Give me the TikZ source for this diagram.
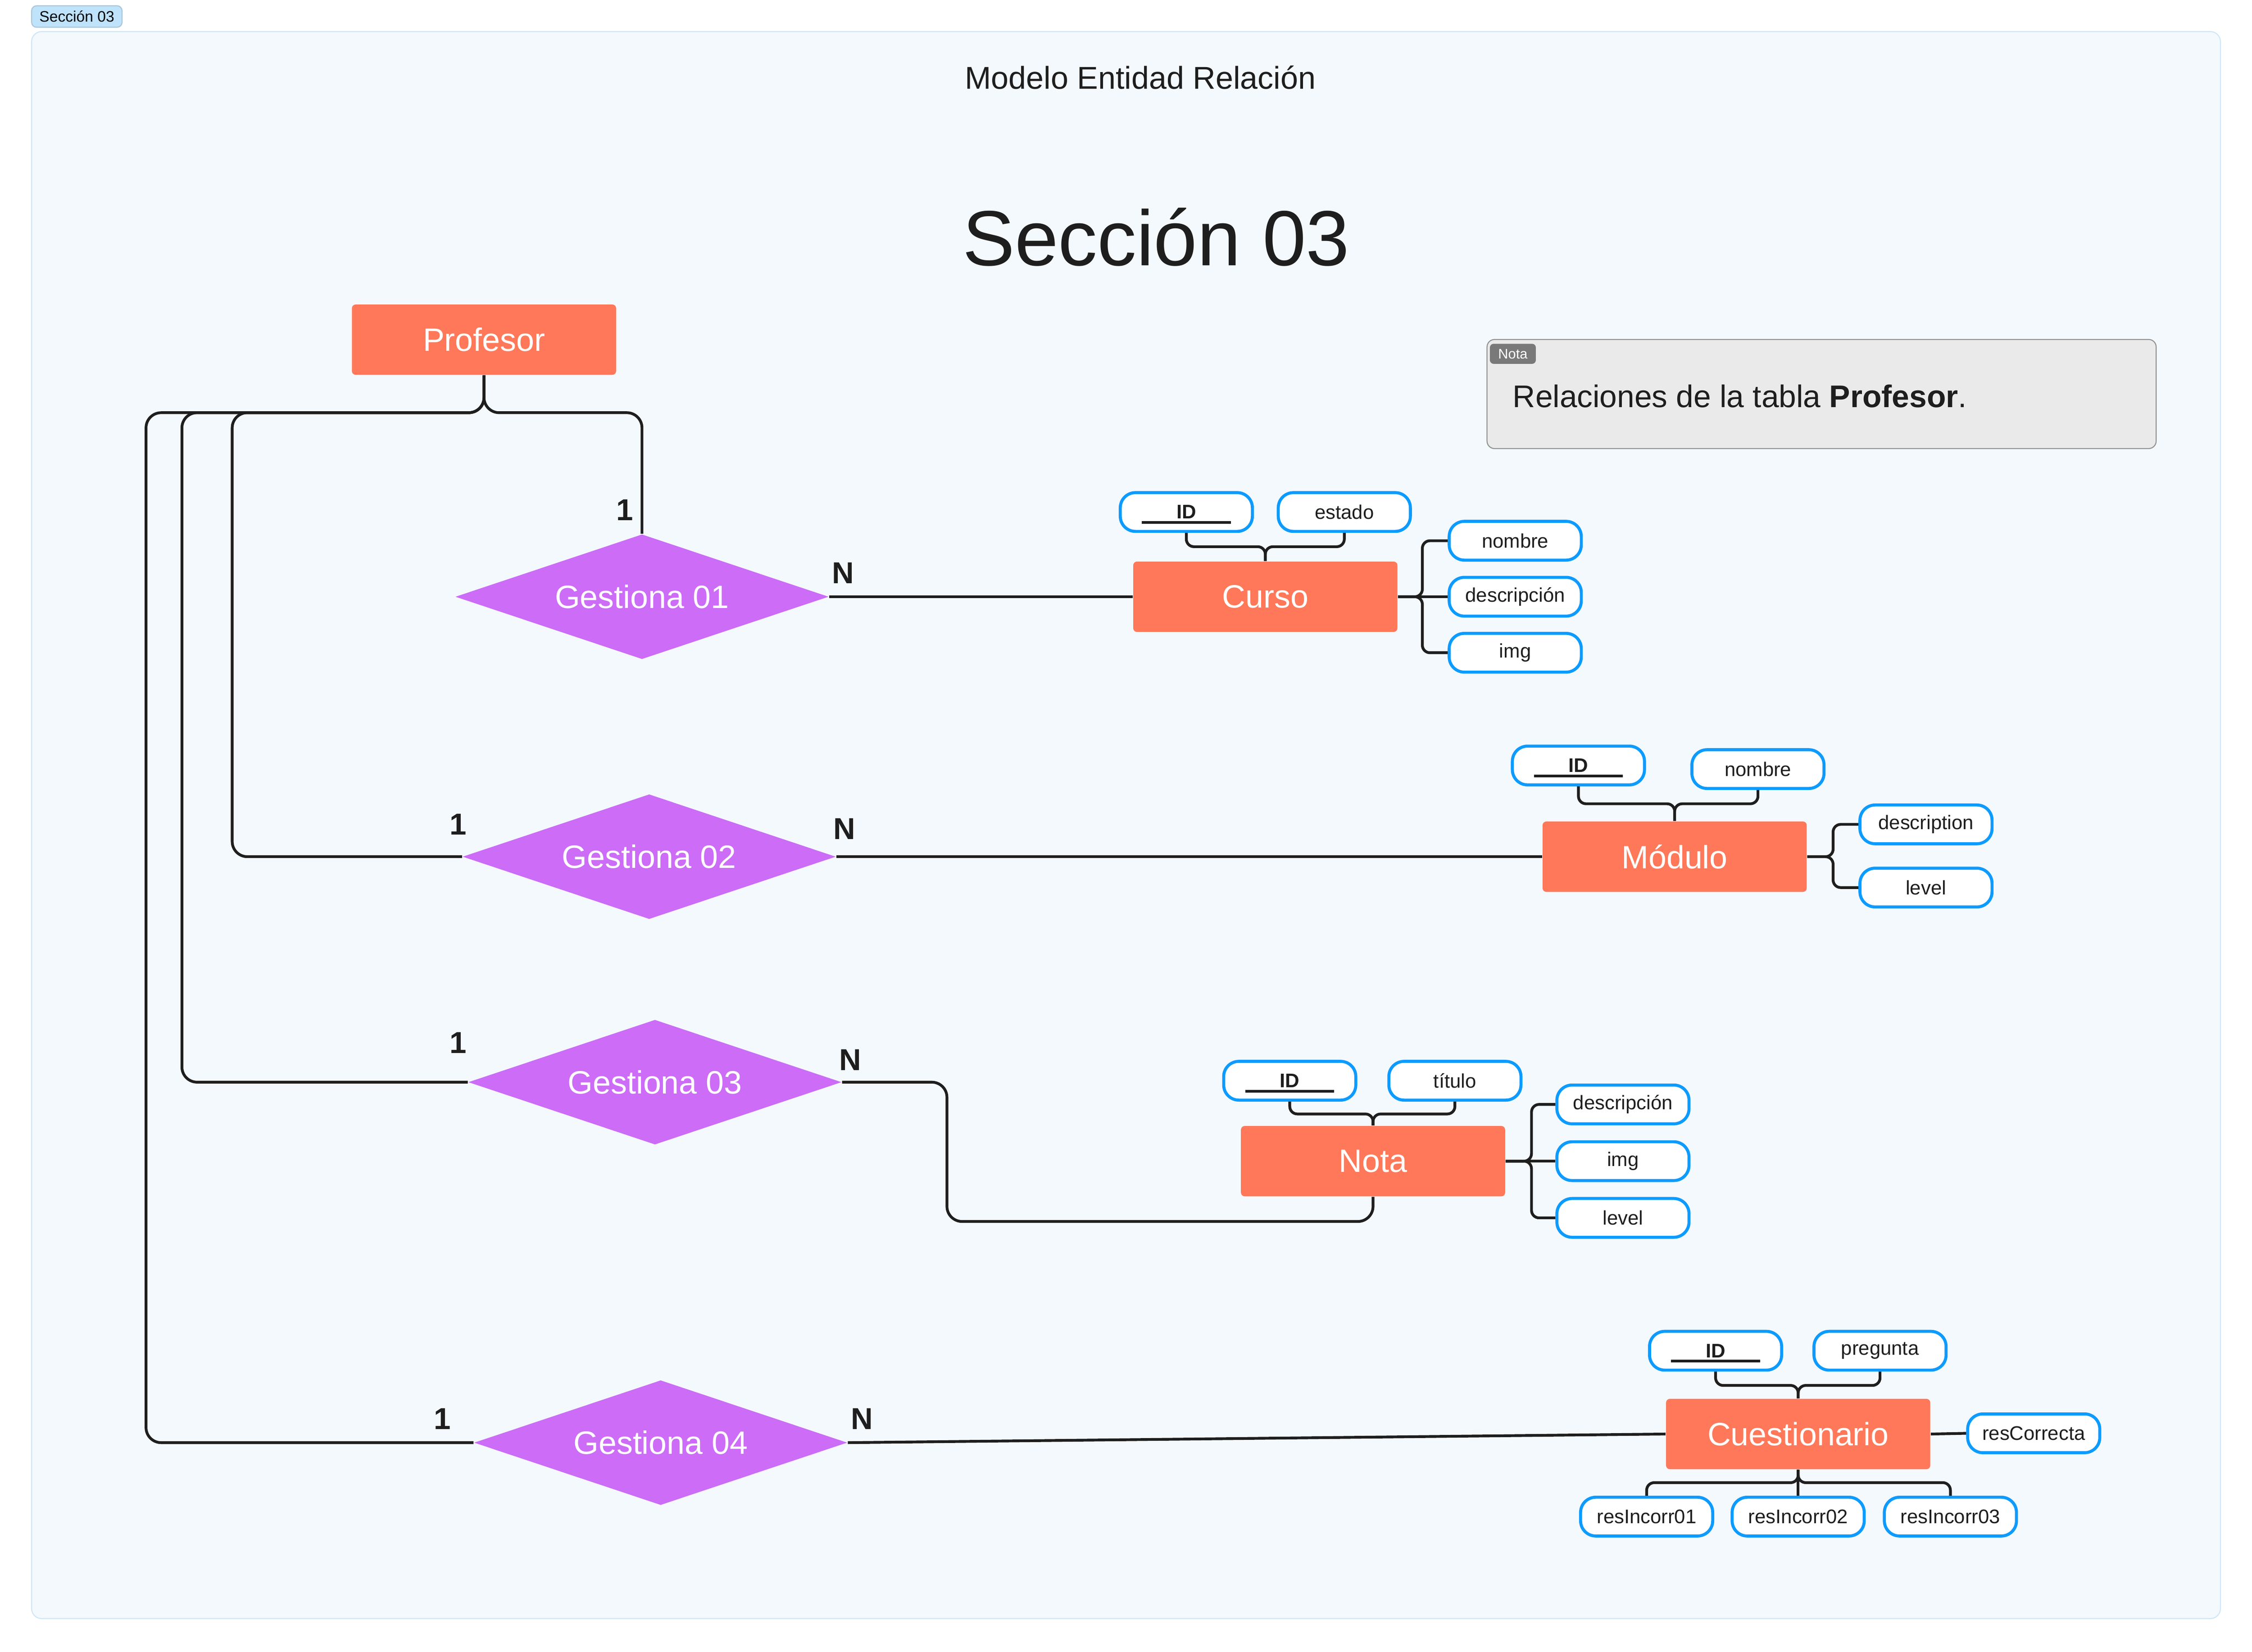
\documentclass[tikz,border=0pt]{standalone}
\usepackage{fontspec}
\setmainfont{Liberation Sans}
\usepackage{xcolor}
\usetikzlibrary{shapes.geometric, positioning, calc}
\definecolor{entcoral}{HTML}{FF7859}
\definecolor{relpurple}{HTML}{CC6CF7}
\definecolor{attblue}{HTML}{0C9BFF}
\definecolor{linkdark}{HTML}{1E1E1E}
\definecolor{framebg}{HTML}{F4F9FD}
\definecolor{frameline}{HTML}{CFE6F6}
\definecolor{tagblue}{HTML}{BEE3FB}
\definecolor{notegray}{HTML}{EAEAEA}
\newcommand{\pkey}[1]{\makebox[1.24cm]{\textbf{#1}}\llap{\smash{\raisebox{-2pt}{\rule{1.24cm}{1.1pt}}}}}

\begin{document}
\begin{tikzpicture}[x=0.02cm, y=-0.02cm,
  entity/.style={rectangle, fill=entcoral, rounded corners=1.5pt, minimum width=3.68cm, minimum height=0.98cm, text=white, font=\fontsize{12.8}{15}\selectfont},
  relation/.style={diamond, aspect=3, fill=relpurple, inner sep=0pt, minimum width=5.2cm, minimum height=1.74cm, text=white, font=\fontsize{12.8}{15}\selectfont},
  attrib/.style={rectangle, draw=attblue, line width=1.2pt, fill=white, rounded corners=6pt, minimum width=1.84cm, minimum height=0.54cm, inner sep=0pt, text=linkdark, font=\fontsize{7.8}{9}\selectfont},
  card/.style={font=\fontsize{12}{14}\selectfont\bfseries, text=linkdark},
  link/.style={draw=linkdark, line width=1.1pt, rounded corners=6pt},
  brace/.style={draw=linkdark, line width=1.1pt, rounded corners=3pt}
]
  \useasboundingbox (0,0) rectangle (1568,1150);
  \fill[white] (0,0) rectangle (1568,1150);
  \draw[fill=framebg, draw=frameline, rounded corners=4pt] (22,22) rectangle (1546,1127);
  \node[fill=tagblue, draw=tagblue!70!gray, rounded corners=2pt, minimum width=1.26cm, minimum height=0.3cm, inner sep=0pt, font=\fontsize{6}{7}\selectfont] (sectag) at (53.5,11.5) {Sección 03};

  \node[font=\fontsize{12.5}{15}\selectfont, text=linkdark] (modtitle) at (794,54) {Modelo Entidad Relación};
  \node[font=\fontsize{31}{37}\selectfont, text=linkdark] (sectitle) at (805,165) {Sección 03};

  \node[anchor=north west, fill=notegray, draw=gray!85, rounded corners=3pt, minimum width=9.32cm, minimum height=1.52cm] (note) at (1035,236) {};
  \node[anchor=north west, fill=gray!95!black, rounded corners=1.5pt, minimum width=0.64cm, minimum height=0.28cm, inner sep=0pt, text=white, font=\fontsize{5.5}{6}\selectfont] (notetag) at (1037,239) {Nota};
  \node[anchor=west, inner sep=0pt, text=linkdark, font=\fontsize{12.4}{15}\selectfont] (notetext) at (1053,276) {Relaciones de la tabla \textbf{Profesor}.};

  \node[entity] (prof) at (337,236.5) {Profesor};
  \node[entity] (curso) at (881,415.5) {Curso};
  \node[entity] (modulo) at (1166,596.5) {Módulo};
  \node[entity] (nota) at (956,808.5) {Nota};
  \node[entity] (cuest) at (1252,998.5) {Cuestionario};

  \node[relation] (gest1) at (447,415.5) {Gestiona 01};
  \node[relation] (gest2) at (452,596.5) {Gestiona 02};
  \node[relation] (gest3) at (456,753.5) {Gestiona 03};
  \node[relation] (gest4) at (460,1004.5) {Gestiona 04};

  \node[card] (one1) at (435,355) {1};
  \node[card] (many1) at (587,399) {N};
  \node[card] (one2) at (319,574) {1};
  \node[card] (many2) at (588,577) {N};
  \node[card] (one3) at (319,726) {1};
  \node[card] (many3) at (592,738) {N};
  \node[card] (one4) at (308,988) {1};
  \node[card] (many4) at (600,988) {N};

  \node[attrib] (cursoid) at (826,356.5) {\pkey{ID}};
  \node[attrib] (cursoestado) at (936,356.5) {estado};
  \node[attrib] (cursonombre) at (1055,376.5) {nombre};
  \node[attrib] (cursodesc) at (1055,415.5) {descripción};
  \node[attrib] (cursoimg) at (1055,454.5) {img};

  \node[attrib] (modid) at (1099,533) {\pkey{ID}};
  \node[attrib] (modnombre) at (1224,535.5) {nombre};
  \node[attrib] (moddesc) at (1341,574) {description};
  \node[attrib] (modlevel) at (1341,618) {level};

  \node[attrib] (notaid) at (898,752.5) {\pkey{ID}};
  \node[attrib] (notatitulo) at (1013,752.5) {título};
  \node[attrib] (notadesc) at (1130,769) {descripción};
  \node[attrib] (notaimg) at (1130,808.5) {img};
  \node[attrib] (notalevel) at (1130,848) {level};

  \node[attrib] (cuestid) at (1194.5,940.5) {\pkey{ID}};
  \node[attrib] (cuestpreg) at (1309,940.5) {pregunta};
  \node[attrib] (cuestcorr) at (1416,998) {resCorrecta};
  \node[attrib] (cuestinc1) at (1146.5,1056) {resIncorr01};
  \node[attrib] (cuestinc2) at (1252,1056) {resIncorr02};
  \node[attrib] (cuestinc3) at (1358,1056) {resIncorr03};

  \draw[link] (prof.south) -- ++(0,26) -| (gest1.north);
  \draw[link] (prof.south) -- ++(0,26) -| ($(gest2.west)+(-160,0)$) -- (gest2.west);
  \draw[link] (prof.south) -- ++(0,26) -| ($(gest3.west)+(-199,0)$) -- (gest3.west);
  \draw[link] (prof.south) -- ++(0,26) -| ($(gest4.west)+(-228,0)$) -- (gest4.west);

  \draw[link] (gest1.east) -- (curso.west);
  \draw[link] (gest2.east) -- (modulo.west);
  \draw[link] (gest3.east) -| ($(gest3.east)+(73,97)$) -| (nota.south);
  \draw[link] (gest4.east) -- (cuest.west);

  \draw[brace] (curso.north) -- ++(0,-10) -| (cursoid.south);
  \draw[brace] (curso.north) -- ++(0,-10) -| (cursoestado.south);
  \draw[brace] (curso.east) -- ++(17,0) |- (cursonombre.west);
  \draw[brace] (curso.east) -- (cursodesc.west);
  \draw[brace] (curso.east) -- ++(17,0) |- (cursoimg.west);

  \draw[brace] (modulo.north) -- ++(0,-12) -| (modid.south);
  \draw[brace] (modulo.north) -- ++(0,-12) -| (modnombre.south);
  \draw[brace] (modulo.east) -- ++(18,0) |- (moddesc.west);
  \draw[brace] (modulo.east) -- ++(18,0) |- (modlevel.west);

  \draw[brace] (nota.north) -- ++(0,-8) -| (notaid.south);
  \draw[brace] (nota.north) -- ++(0,-8) -| (notatitulo.south);
  \draw[brace] (nota.east) -- ++(18,0) |- (notadesc.west);
  \draw[brace] (nota.east) -- (notaimg.west);
  \draw[brace] (nota.east) -- ++(18,0) |- (notalevel.west);

  \draw[brace] (cuest.north) -- ++(0,-9) -| (cuestid.south);
  \draw[brace] (cuest.north) -- ++(0,-9) -| (cuestpreg.south);
  \draw[brace] (cuest.east) -- (cuestcorr.west);
  \draw[brace] (cuest.south) -- ++(0,9) -| (cuestinc1.north);
  \draw[brace] (cuest.south) -- (cuestinc2.north);
  \draw[brace] (cuest.south) -- ++(0,9) -| (cuestinc3.north);
\end{tikzpicture}
\end{document}
